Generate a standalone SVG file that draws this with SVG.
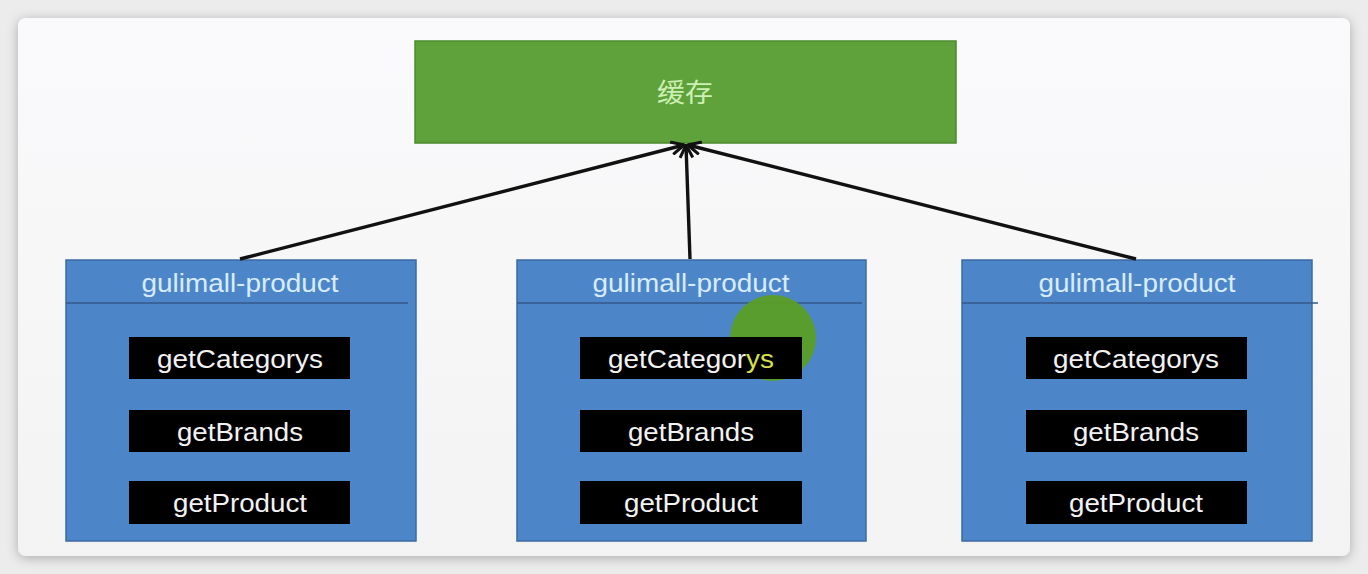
<svg xmlns="http://www.w3.org/2000/svg" width="1368" height="574" viewBox="0 0 1368 574">
<defs>
<filter id="sh" x="-5%" y="-5%" width="110%" height="110%">
<feDropShadow dx="0" dy="2" stdDeviation="6" flood-color="#000" flood-opacity="0.28"/>
</filter>
<linearGradient id="cardg" x1="0" y1="0" x2="0" y2="1">
<stop offset="0" stop-color="#fafafc"/>
<stop offset="1" stop-color="#f3f3f3"/>
</linearGradient>
<marker id="arr" viewBox="0 0 12 12" refX="11" refY="6" markerWidth="4.5" markerHeight="4.5" markerUnits="strokeWidth" orient="auto">
<path d="M1,1 L11,6 L1,11" fill="none" stroke="#111" stroke-width="2.4"/>
</marker>
<style>
.svc{fill:#4d86c8;stroke:#3b6aa3;stroke-width:1.5}
.hdr{stroke:#34598a;stroke-width:1.5}
.htxt{font-family:"Liberation Sans",Arial,sans-serif;font-size:26px;fill:#d8ecff;text-anchor:middle}
.fn{fill:#000}
.ftxt{font-family:"Liberation Sans",Arial,sans-serif;font-size:25px;fill:#f2f2f2;text-anchor:middle}
.conn{stroke:#111;stroke-width:3.4;fill:none;marker-end:url(#arr)}
</style>
</defs>
<rect width="1368" height="574" fill="#ececec"/>
<rect x="18" y="18" width="1332" height="538" rx="8" fill="url(#cardg)" filter="url(#sh)"/>

<g id="cache">
<rect x="415" y="41" width="541" height="102" fill="#5fa13a" stroke="#4b8a2c" stroke-width="1.5"/>
<text x="685" y="102" font-family="'Noto Sans CJK SC',sans-serif" font-size="26" fill="#cdf0b4" text-anchor="middle" textLength="56" lengthAdjust="spacingAndGlyphs">缓存</text>
</g>

<g id="product1">
<rect class="svc" x="66" y="260" width="350" height="281"/>
<line class="hdr" x1="66" y1="303" x2="408" y2="303"/>
<text class="htxt" x="240" y="292" textLength="197" lengthAdjust="spacingAndGlyphs">gulimall-product</text>
<rect class="fn" x="129" y="337" width="221" height="42"/>
<text class="ftxt" x="240" y="368" textLength="166" lengthAdjust="spacingAndGlyphs">getCategorys</text>
<rect class="fn" x="129" y="410" width="221" height="42"/>
<text class="ftxt" x="240" y="441" textLength="126" lengthAdjust="spacingAndGlyphs">getBrands</text>
<rect class="fn" x="129" y="481" width="221" height="43"/>
<text class="ftxt" x="240" y="512" textLength="134" lengthAdjust="spacingAndGlyphs">getProduct</text>
</g>

<g id="product2">
<rect class="svc" x="517" y="260" width="349" height="281"/>
<line class="hdr" x1="517" y1="303" x2="862" y2="303"/>
<text class="htxt" x="691" y="292" textLength="197" lengthAdjust="spacingAndGlyphs">gulimall-product</text>
<circle cx="773" cy="338" r="43" fill="#5a9e26" opacity="0.95"/>
<rect class="fn" x="580" y="337" width="222" height="42"/>
<text class="ftxt" x="691" y="368" textLength="166" lengthAdjust="spacingAndGlyphs">getCategor<tspan fill="#d8e04a">ys</tspan></text>
<rect class="fn" x="580" y="410" width="222" height="42"/>
<text class="ftxt" x="691" y="441" textLength="126" lengthAdjust="spacingAndGlyphs">getBrands</text>
<rect class="fn" x="580" y="481" width="222" height="43"/>
<text class="ftxt" x="691" y="512" textLength="134" lengthAdjust="spacingAndGlyphs">getProduct</text>
</g>

<g id="product3">
<rect class="svc" x="962" y="260" width="350" height="281"/>
<line class="hdr" x1="962" y1="303" x2="1318" y2="303"/>
<text class="htxt" x="1137" y="292" textLength="197" lengthAdjust="spacingAndGlyphs">gulimall-product</text>
<rect class="fn" x="1026" y="337" width="221" height="42"/>
<text class="ftxt" x="1136" y="368" textLength="166" lengthAdjust="spacingAndGlyphs">getCategorys</text>
<rect class="fn" x="1026" y="410" width="221" height="42"/>
<text class="ftxt" x="1136" y="441" textLength="126" lengthAdjust="spacingAndGlyphs">getBrands</text>
<rect class="fn" x="1026" y="481" width="221" height="43"/>
<text class="ftxt" x="1136" y="512" textLength="134" lengthAdjust="spacingAndGlyphs">getProduct</text>
</g>

<g id="connectors">
<line class="conn" x1="240" y1="259" x2="684" y2="145"/>
<line class="conn" x1="690" y1="259" x2="686" y2="145"/>
<line class="conn" x1="1136" y1="259" x2="688" y2="145"/>
</g>
</svg>
